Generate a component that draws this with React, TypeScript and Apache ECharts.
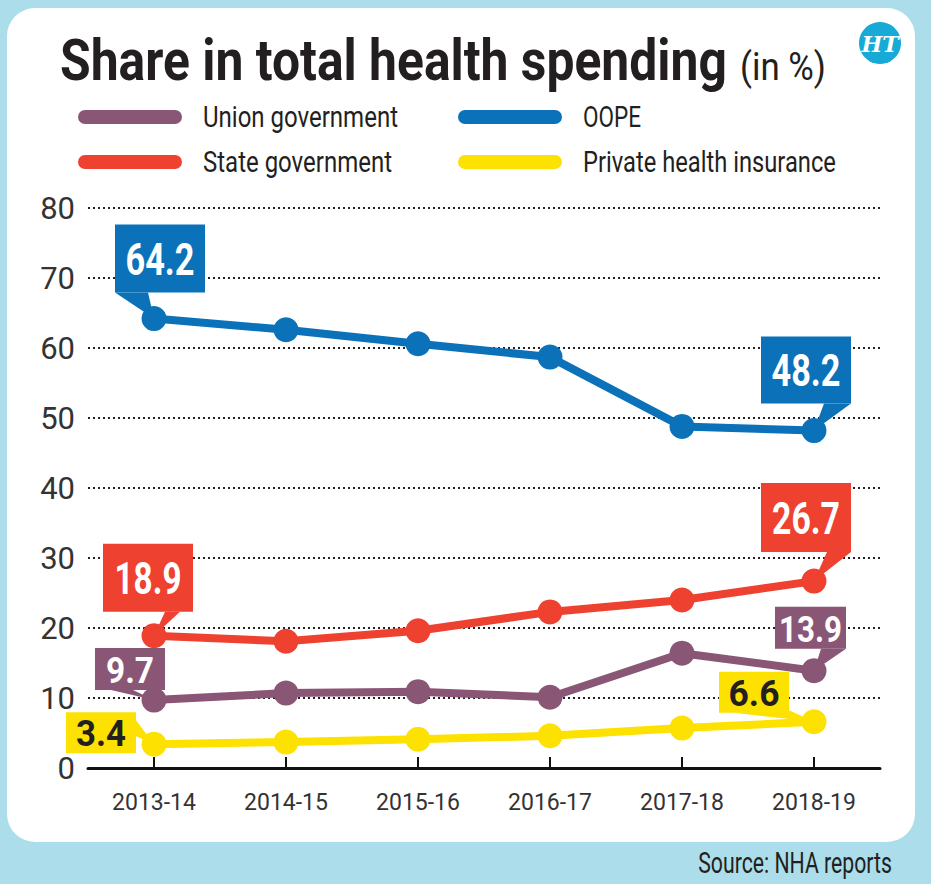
import React, { useEffect, useRef } from "react";
import * as echarts from "echarts";

// ---------- data ----------
const categories = ["2013-14", "2014-15", "2015-16", "2016-17", "2017-18", "2018-19"];
const unionGov = [9.7, 10.7, 10.9, 10.1, 16.4, 13.9];
const oope = [64.2, 62.6, 60.6, 58.7, 48.8, 48.2];
const stateGov = [18.9, 18.1, 19.6, 22.3, 24.0, 26.7];
const privateIns = [3.4, 3.7, 4.1, 4.6, 5.7, 6.6];
const seriesNames = ["Union government", "OOPE", "State government", "Private health insurance"];
const yMin = 0;
const yMax = 80;
const yStep = 10;

// ---------- styles ----------
const COLORS = ["#8a5675", "#0b72b9", "#ee4130", "#fde100"];
const FONT = "Roboto, 'Noto Sans', sans-serif";
const TEXT = "#231f20";

// callouts: which series/point, box offset from point [dx, dy, w, h], wedge base (relative to box)
const callouts = [
  { s: 1, i: 0, box: [-39, -94, 90, 68], base: [[0, 68], [33, 68]], fs: 45, tw: 69 },
  { s: 1, i: 5, box: [-53, -94, 90, 67], base: [[63, 67], [90, 67]], fs: 45, tw: 69 },
  { s: 2, i: 0, box: [-51, -92, 90, 68], base: [[62, 68], [77, 68]], fs: 45, tw: 67 },
  { s: 2, i: 5, box: [-53, -98, 90, 69], base: [[66, 69], [90, 69]], fs: 45, tw: 68 },
  { s: 0, i: 0, box: [-59, -52, 70, 42], base: [[16, 42], [38, 42]], fs: 37, tw: 48 },
  { s: 0, i: 5, box: [-39, -64, 71, 42], base: [[46, 42], [71, 42]], fs: 37, tw: 63 },
  { s: 3, i: 0, box: [-88, -32, 70, 41], base: [[64, 0], [70, 24]], fs: 37, tw: 50 },
  { s: 3, i: 5, box: [-95, -50, 70, 41], base: [[15, 41], [69, 38]], fs: 37, tw: 51 },
];

let measureCtx: CanvasRenderingContext2D | null = null;
function fitScale(text: string, font: string, target: number): number {
  if (!measureCtx) measureCtx = document.createElement("canvas").getContext("2d");
  if (!measureCtx) return 1;
  measureCtx.font = font;
  const w = measureCtx.measureText(text).width;
  return w > 0 ? target / w : 1;
}

function scaledText(
  text: string, x: number, y: number, size: number, weight: string,
  target: number, align: string, fill: string, z = 50
) {
  const sx = fitScale(text, `${weight} ${size}px Roboto`, target);
  return {
    type: "text", x, y, scaleX: sx, z, silent: true,
    style: {
      text, fontSize: size, fontWeight: weight, fontFamily: FONT, fill,
      textAlign: align, textVerticalAlign: "middle",
    },
  };
}

export default function App() {
  const ref = useRef<HTMLDivElement>(null);
  useEffect(() => {
    if (!ref.current) return;
    const chart = echarts.init(ref.current, null, { renderer: "svg" });
    const dataSets = [unionGov, oope, stateGov, privateIns];
    const drawOrder = [1, 2, 0, 3];
    const series = drawOrder.map((k) => ({
      name: seriesNames[k],
      type: "line",
      data: dataSets[k],
      symbol: "circle",
      symbolSize: 25,
      lineStyle: { width: 8, color: COLORS[k] },
      itemStyle: { color: COLORS[k] },
      emphasis: { disabled: true },
      z: 3,
    }));
    chart.setOption({
      animation: false,
      backgroundColor: "#abdeea",
      grid: { left: 88, right: 51, top: 208, bottom: 116 },
      xAxis: {
        type: "category",
        data: categories,
        boundaryGap: true,
        axisLine: { lineStyle: { color: "#111", width: 3 } },
        axisTick: { show: true, inside: true, alignWithLabel: true, length: 11, lineStyle: { color: "#111", width: 2 } },
        axisLabel: { color: "#333", fontSize: 23, fontFamily: FONT, margin: 23 },
        splitLine: { show: false },
      },
      yAxis: {
        type: "value",
        min: yMin,
        max: yMax,
        interval: yStep,
        axisLine: { show: false },
        axisTick: { show: false },
        axisLabel: { color: "#333", fontSize: 31, fontFamily: FONT, margin: 13 },
        splitLine: { lineStyle: { color: "#222", width: 2, type: [2, 3] } },
      },
      series,
    });

    const g: any[] = [];
    // card
    g.push({ type: "rect", z: -10, silent: true, shape: { x: 7, y: 8, width: 908, height: 834, r: 28 }, style: { fill: "#ffffff" } });
    // title
    g.push(scaledText("Share in total health spending", 60, 60, 57, "bold", 667, "left", TEXT));
    g.push(scaledText("(in %)", 740, 67, 39, "normal", 86, "left", TEXT));
    // HT logo
    g.push({ type: "circle", z: 50, silent: true, shape: { cx: 880, cy: 43, r: 21 }, style: { fill: "#17aad6" } });
    g.push({
      type: "text", x: 880, y: 44, z: 51, silent: true,
      style: { text: "HT", fontSize: 22, fontWeight: "bold", fontStyle: "italic", fontFamily: "'DejaVu Serif', serif", fill: "#fff", textAlign: "center", textVerticalAlign: "middle" },
    });
    // legend
    const legendPos = [
      { x: 78, y: 117, tw: 195 },
      { x: 458, y: 117, tw: 58 },
      { x: 78, y: 162, tw: 189 },
      { x: 458, y: 162, tw: 253 },
    ];
    seriesNames.forEach((name, k) => {
      const p = legendPos[k];
      g.push({ type: "line", z: 50, silent: true, shape: { x1: p.x + 7, y1: p.y, x2: p.x + 97, y2: p.y }, style: { stroke: COLORS[k], lineWidth: 14, lineCap: "round" } });
      g.push(scaledText(name, p.x + 125, p.y, 29, "normal", p.tw, "left", TEXT));
    });
    // source
    g.push(scaledText("Source: NHA reports", 892, 863, 29, "normal", 194, "right", TEXT));

    // callouts
    callouts.forEach((c) => {
      const val = dataSets[c.s][c.i];
      const pt = chart.convertToPixel({ xAxisIndex: 0, yAxisIndex: 0 }, [c.i, val]) as number[];
      const bx = pt[0] + c.box[0];
      const by = pt[1] + c.box[1];
      const w = c.box[2];
      const h = c.box[3];
      const fill = COLORS[c.s];
      const txtColor = c.s === 3 ? TEXT : "#ffffff";
      g.push({
        type: "polygon", z: 60, silent: true,
        shape: { points: [[bx + c.base[0][0], by + c.base[0][1]], [bx + c.base[1][0], by + c.base[1][1]], [pt[0], pt[1]]] },
        style: { fill },
      });
      g.push({ type: "rect", z: 60, silent: true, shape: { x: bx, y: by, width: w, height: h }, style: { fill } });
      g.push(scaledText(String(val), bx + w / 2, by + h / 2 + 1, c.fs, "bold", c.tw, "center", txtColor, 61));
    });

    chart.setOption({ graphic: g });
    return () => chart.dispose();
  }, []);
  return <div ref={ref} style={{ position: "fixed", left: 0, top: 0, width: 931, height: 884 }} />;
}
